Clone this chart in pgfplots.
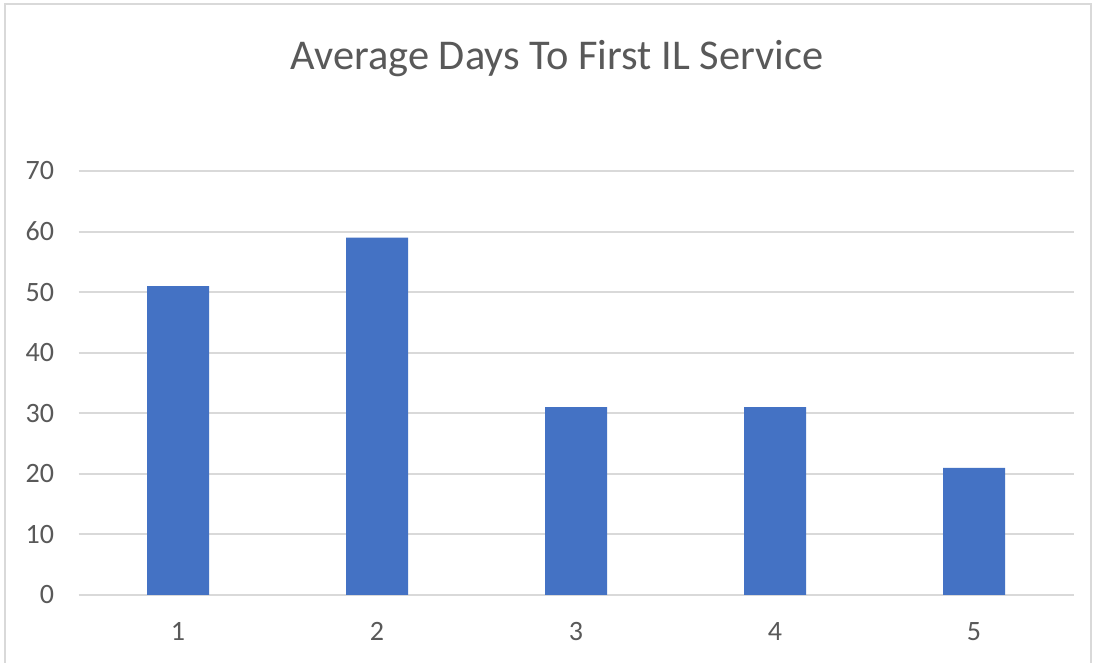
\documentclass[border=0pt]{standalone}
\usepackage{pgfplots}
\pgfplotsset{compat=1.18}
\usepackage{fontspec}
\setmainfont{Carlito}
\definecolor{barblue}{HTML}{4472C4}
\definecolor{txtgray}{HTML}{595959}
\definecolor{gridgray}{HTML}{D9D9D9}
\begin{document}
\begin{tikzpicture}[x=1pt,y=1pt]
\useasboundingbox (0,0) rectangle (1098,663);
\fill[white] (0,0) rectangle (1098,663);
\draw[gridgray, line width=2.5pt] (5,0) -- (5,659) -- (1091,659) -- (1091,0);
\node[anchor=base, text=txtgray, font=\fontsize{42.4}{50}\selectfont] at (557,593) {Average Days To First IL Service};
\begin{axis}[
  at={(78.5pt,68pt)}, anchor=south west,
  scale only axis, width=995pt, height=424pt,
  xmin=0.5, xmax=5.5, ymin=0, ymax=70,
  xtick={1,2,3,4,5}, ytick={0,10,...,70},
  axis line style={draw=none},
  major tick length=0pt,
  ymajorgrids, grid style={gridgray, line width=2pt},
  /pgf/number format/assume math mode=true,
  ticklabel style={text=txtgray, font=\fontsize{28}{33}\selectfont},
  yticklabel style={xshift=-21pt},
  xticklabel style={yshift=-24pt},
  clip=false,
]
\addplot[ybar, bar width=62pt, fill=barblue, draw=none] coordinates {(1,51) (2,59) (3,31) (4,31) (5,21)};
\end{axis}
\end{tikzpicture}
\end{document}
